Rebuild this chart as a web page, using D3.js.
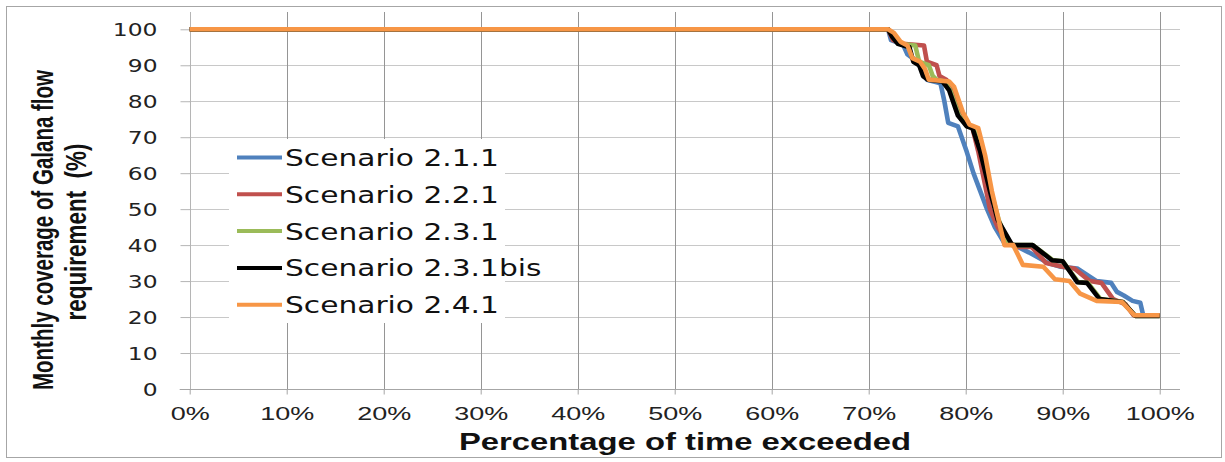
<!DOCTYPE html>
<html>
<head>
<meta charset="utf-8">
<script src="https://cdnjs.cloudflare.com/ajax/libs/d3/7.8.5/d3.min.js"></script>
<style>
  html, body { margin: 0; padding: 0; background: #fff; }
  svg { display: block; }
</style>
</head>
<body>
<svg id="chart" width="1225" height="462"></svg>
<script>
// ---------------- DATA ----------------
const xTicks = [0, 10, 20, 30, 40, 50, 60, 70, 80, 90, 100];
const yTicks = [0, 10, 20, 30, 40, 50, 60, 70, 80, 90, 100];
const seriesNames = ["Scenario 2.1.1", "Scenario 2.2.1", "Scenario 2.3.1", "Scenario 2.3.1bis", "Scenario 2.4.1"];

// [percentage of time exceeded, monthly coverage %]
const s211 = [[0,100],[72.0,100],[72.3,97],[72.8,96.5],[73.5,96],[74.0,93],[75.0,91],[75.6,88],[76.0,86],[77.4,85],[77.8,80],[78.2,74],[79.2,73],[80.1,66],[80.8,60],[81.5,55],[82.2,50],[83.0,45],[84.0,40.5],[85.0,40],[86.5,38],[88.5,35],[89.8,34],[91.5,33.5],[93.5,30],[95.0,29.5],[95.6,27],[96.3,26],[97.2,24.5],[98.0,24],[98.3,20.5],[100,20.5]];
const s221 = [[0,100],[72.0,100],[72.5,97],[73.5,96],[75.7,95.5],[76.0,91],[77.0,90],[77.3,87],[78.0,86],[78.6,84],[79.4,76],[80.2,73],[80.7,72.5],[81.3,66],[81.9,58],[82.5,50],[83.3,45],[84.3,41],[85.2,39.5],[86.8,39.5],[88.3,35],[90.0,34],[91.2,33.5],[92.8,30],[94.0,29.5],[95.2,25],[96.5,23.5],[97.3,20.5],[100,20.5]];
const s231 = [[0,100],[72.0,100],[72.5,98],[73.2,96],[74.8,95.5],[75.2,91],[76.2,90],[76.6,87],[77.0,86],[77.8,85.5],[78.4,83],[79.3,76],[80.2,73],[80.8,72.5],[81.6,66],[82.6,55],[83.4,47],[84.3,41],[84.9,40],[86.9,40],[89.0,35.8],[90.0,35.5],[91.6,29.7],[92.6,29.5],[93.9,25],[96.2,24.2],[97.5,20.3],[100,20.3]];
const s231bis = [[0,100],[72.0,100],[72.4,98],[73.0,96],[74.2,95],[74.6,91],[75.2,90],[75.6,87],[76.1,86],[77.6,85.5],[78.3,83],[79.2,76],[80.1,73],[80.7,72.5],[81.5,66],[82.5,55],[83.3,47],[84.8,40],[86.9,40],[88.9,35.8],[90.0,35.5],[91.5,29.7],[92.5,29.5],[93.8,25],[96.2,24.2],[97.5,20.3],[100,20.3]];
const s241 = [[0,100],[72.0,100],[72.6,99],[73.3,96.5],[74.0,95.5],[74.5,92],[75.3,91],[75.8,89],[76.2,86],[78.3,85.5],[78.8,84],[79.7,77],[80.4,73.5],[81.3,72.5],[82.0,65],[82.7,55],[83.3,48],[84.0,40],[84.9,40],[85.9,34.5],[88.0,34],[89.2,30.5],[90.7,30],[91.8,26.5],[93.5,24.5],[96.1,24.2],[97.4,20.5],[100,20.5]];
const seriesData = [s211, s221, s231, s231bis, s241];
const seriesColors = ["#4F81BD", "#C0504D", "#9BBB59", "#000000", "#F79646"];

// ---------------- CHART ----------------
const svg = d3.select("#chart");

function stretch(sel, k) {
  sel.each(function () {
    const w = this.getComputedTextLength();
    d3.select(this).attr("textLength", w * k).attr("lengthAdjust", "spacingAndGlyphs");
  });
}

// outer frame
svg.append("rect").attr("x", 6.5).attr("y", 6.5).attr("width", 1215).attr("height", 451)
  .attr("fill", "#fff").attr("stroke", "#a6a6a6").attr("stroke-width", 1);

const x = d3.scaleLinear().domain([0, 100]).range([189.7, 1159.7]);
const y = d3.scaleLinear().domain([0, 100]).range([389, 29.3]);
const plotRight = 1180, plotTop = 12;

// horizontal gridlines
svg.append("g").selectAll("line").data(yTicks.filter(d => d > 0)).join("line")
  .attr("x1", x(0)).attr("x2", plotRight)
  .attr("y1", d => Math.round(y(d)) + 0.5).attr("y2", d => Math.round(y(d)) + 0.5)
  .attr("stroke", "#c8c8c8").attr("stroke-width", 1.2);

// vertical gridlines
svg.append("g").selectAll("line").data(xTicks.filter(d => d > 0)).join("line")
  .attr("x1", d => Math.round(x(d)) + 0.5).attr("x2", d => Math.round(x(d)) + 0.5)
  .attr("y1", plotTop).attr("y2", y(0))
  .attr("stroke", "#959595").attr("stroke-width", 1);

// y axis
const yAxis = svg.append("g").attr("transform", `translate(${Math.round(x(0)) + 0.5},0)`)
  .call(d3.axisLeft(y).tickValues(yTicks).tickSize(10).tickSizeOuter(0).tickFormat(d3.format("d")));
yAxis.select(".domain").attr("stroke", "#b5b5b5").attr("d", `M0,${plotTop}V${y(0)}`);
yAxis.selectAll(".tick line").attr("stroke", "#b5b5b5");
yAxis.selectAll(".tick text")
  .attr("x", -33).attr("dy", "0.36em")
  .attr("font-family", "'DejaVu Sans', Verdana, sans-serif").attr("font-size", 18).attr("fill", "#222");
stretch(yAxis.selectAll(".tick text"), 1.3);

// x axis
const xAxis = svg.append("g").attr("transform", `translate(0,${Math.round(y(0)) + 0.5})`)
  .call(d3.axisBottom(x).tickValues(xTicks).tickSize(5).tickSizeOuter(0).tickFormat(d => d + "%"));
xAxis.select(".domain").attr("stroke", "#a6a6a6").attr("d", `M${x(0) - 10},0H${plotRight}`);
xAxis.selectAll(".tick line").attr("stroke", "#a6a6a6");
xAxis.selectAll(".tick text")
  .attr("y", 30).attr("dy", null)
  .attr("font-family", "'Liberation Sans', Arial, sans-serif").attr("font-size", 19).attr("fill", "#222");
stretch(xAxis.selectAll(".tick text"), 1.42);

// series lines
const line = d3.line().x(d => x(d[0])).y(d => y(d[1]));
svg.append("g").selectAll("path").data(seriesData).join("path")
  .attr("d", line).attr("fill", "none")
  .attr("stroke", (d, i) => seriesColors[i])
  .attr("stroke-width", 4.6).attr("stroke-linejoin", "round").attr("stroke-linecap", "butt");

// legend
const lg = svg.append("g");
lg.append("rect").attr("x", 229).attr("y", 139).attr("width", 276).attr("height", 184).attr("fill", "#fff");
const rows = lg.selectAll("g.row").data(seriesNames).join("g").attr("class", "row")
  .attr("transform", (d, i) => `translate(0,${157.5 + i * 36.8})`);
rows.append("line").attr("x1", 237).attr("x2", 282).attr("y1", 0).attr("y2", 0)
  .attr("stroke", (d, i) => seriesColors[i]).attr("stroke-width", 4);
const lt = rows.append("text").attr("x", 285).attr("y", 8.5).text(d => d)
  .attr("font-family", "'DejaVu Sans', Verdana, sans-serif").attr("font-size", 23).attr("fill", "#111");
stretch(lt, 1.29);

// axis titles
svg.append("text").attr("transform", "translate(685,450) scale(1,1.2)").attr("text-anchor", "middle")
  .attr("font-family", "'Liberation Sans', Arial, sans-serif")
  .attr("font-weight", "bold").attr("font-size", 20).attr("fill", "#111")
  .attr("textLength", 452).attr("lengthAdjust", "spacingAndGlyphs")
  .text("Percentage of time exceeded");

svg.append("text").attr("transform", "translate(53,230) rotate(-90) scale(1,1.7)").attr("text-anchor", "middle")
  .attr("font-family", "'Liberation Sans', Arial, sans-serif")
  .attr("font-weight", "bold").attr("font-size", 17).attr("fill", "#111")
  .attr("textLength", 320).attr("lengthAdjust", "spacingAndGlyphs")
  .text("Monthly coverage of Galana flow");
svg.append("text").attr("transform", "translate(86,232) rotate(-90) scale(1,1.7)").attr("text-anchor", "middle")
  .attr("font-family", "'Liberation Sans', Arial, sans-serif")
  .attr("font-weight", "bold").attr("font-size", 17).attr("fill", "#111")
  .attr("textLength", 177).attr("lengthAdjust", "spacingAndGlyphs")
  .style("white-space", "pre")
  .text("requirement  (%)");
</script>
</body>
</html>
